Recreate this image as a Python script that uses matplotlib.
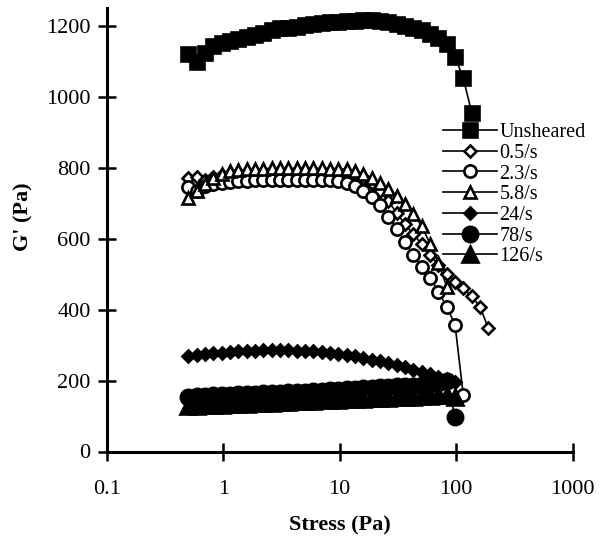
import matplotlib
matplotlib.use("Agg")
import matplotlib.pyplot as plt

plt.rcParams['font.family'] = ['Liberation Serif', 'DejaVu Serif']

# shared stress steps (Pa)
stress = [0.50, 0.59, 0.70, 0.82, 0.97, 1.14, 1.35, 1.59, 1.87, 2.21,
          2.60, 3.07, 3.62, 4.27, 5.03, 5.93, 7.00, 8.25, 9.73, 11.5,
          13.5, 16.0, 18.8, 22.2, 26.2, 30.9, 36.4, 42.9, 50.6, 59.7,
          70.4, 83.0, 97.8, 115, 136, 160, 189]

g_unsheared = [1120, 1097, 1122, 1142, 1150, 1158, 1163, 1168, 1173, 1180,
               1188, 1193, 1195, 1197, 1201, 1205, 1208, 1210, 1211, 1212,
               1213, 1215, 1215, 1213, 1210, 1206, 1200, 1194, 1187, 1178,
               1166, 1148, 1113, 1052, 955]
g_05 = [770, 775, 765, 775, 780, 783, 785, 786, 787, 788,
        788, 789, 789, 789, 789, 789, 788, 787, 786, 784,
        780, 772, 758, 735, 705, 672, 640, 612, 585, 555,
        525, 500, 479, 460, 437, 408, 347]
g_23 = [745, 735, 748, 755, 758, 760, 762, 763, 764, 765,
        765, 766, 766, 766, 766, 766, 765, 764, 762, 757,
        748, 735, 718, 695, 662, 628, 590, 553, 520, 490,
        450, 408, 357, 159]
g_58 = [715, 735, 755, 770, 783, 790, 793, 795, 796, 797,
        798, 798, 798, 798, 798, 798, 798, 797, 797, 795,
        790, 783, 772, 758, 740, 720, 697, 670, 635, 585,
        530, 465]
g_24 = [270, 272, 275, 277, 279, 281, 282, 283, 284, 285,
        285, 285, 285, 284, 283, 282, 280, 278, 276, 273,
        269, 264, 259, 254, 249, 243, 237, 231, 225, 218,
        211, 204, 197]
g_78 = [155, 156, 157, 158, 159, 160, 161, 162, 163, 164,
        165, 166, 167, 168, 169, 170, 171, 172, 173, 175,
        176, 178, 180, 181, 182, 184, 185, 186, 188, 191,
        194, 199, 98]
g_126 = [128, 129, 130, 131, 132, 133, 134, 135, 136, 137,
         138, 139, 140, 141, 142, 143, 144, 145, 146, 147,
         148, 149, 150, 151, 152, 153, 154, 155, 156, 157,
         158, 158, 155]

series = [
    ("Unsheared", g_unsheared, 's', 'black', 10.5),
    ("0.5/s", g_05, 'D', 'white', 6.3),
    ("2.3/s", g_23, 'o', 'white', 8.8),
    ("5.8/s", g_58, '^', 'white', 8.6),
    ("24/s", g_24, 'D', 'black', 6.6),
    ("78/s", g_78, 'o', 'black', 11),
    ("126/s", g_126, '^', 'black', 11),
]

fig = plt.figure(figsize=(6.02, 5.36), dpi=100)
ax = fig.add_axes([106.7 / 602, (536 - 451.5) / 536, 466 / 602, 443.5 / 536])

for label, vals, mk, face, ms in series:
    ax.plot(stress[:len(vals)], vals, color='black', lw=1.2, marker=mk,
            ms=ms, mfc=face, mec='black', mew=1.9, label=label)

ax.set_xscale('log')
ax.set_xlim(0.1, 1000)
ax.set_ylim(0, 1250)
ax.set_xticks([0.1, 1, 10, 100, 1000])
ax.set_xticklabels(['0.1', '1', '10', '100', '1000'])
ax.set_yticks([0, 200, 400, 600, 800, 1000, 1200])
ax.minorticks_off()

for side in ['top', 'right']:
    ax.spines[side].set_visible(False)
for side in ['left', 'bottom']:
    ax.spines[side].set_linewidth(2.2)
ax.tick_params(axis='both', direction='inout', length=13, width=1.8, labelsize=16)
ax.tick_params(axis='x', pad=14)
ax.tick_params(axis='y', pad=5)

ax.set_xlabel('Stress (Pa)', fontsize=16, fontweight='bold', labelpad=12)
ax.set_ylabel("G' (Pa)", fontsize=16, fontweight='bold')
ax.yaxis.set_label_coords(-0.158, 0.53)

ax.legend(loc='upper left', bbox_to_anchor=(443 / 602, 1 - 123 / 536),
          bbox_transform=fig.transFigure, frameon=False, fontsize=14.5,
          handlelength=2.7, handletextpad=0.1, labelspacing=0.08,
          borderpad=0, borderaxespad=0)

fig.savefig('out.png', dpi=100)
